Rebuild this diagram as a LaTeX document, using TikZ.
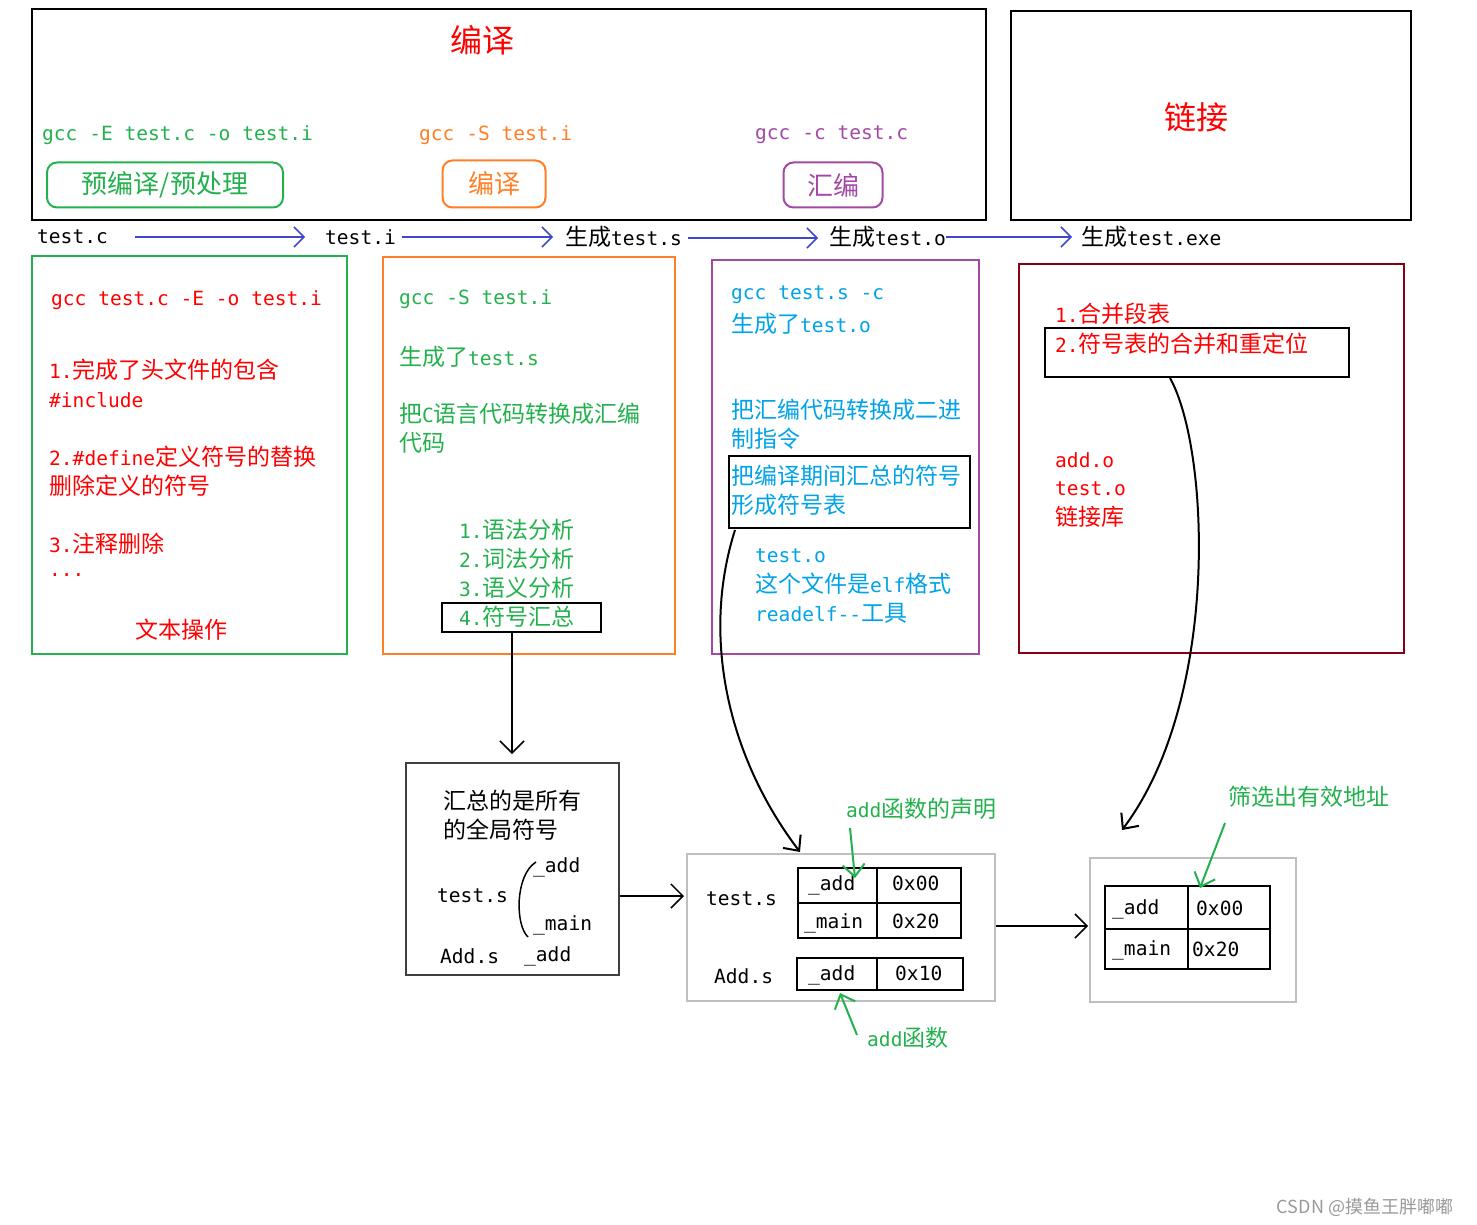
\documentclass[tikz,border=0pt]{standalone}
\usepackage{fontspec}
\setmainfont{Noto Sans CJK SC}
\newfontfamily\monofam{DejaVu Sans Mono}[Scale=0.85]
\newcommand\m[1]{{\monofam #1}}
\usetikzlibrary{arrows.meta}
\definecolor{cgreen}{RGB}{34,177,76}
\definecolor{corange}{RGB}{255,127,39}
\definecolor{cpurple}{RGB}{163,73,164}
\definecolor{cblue}{RGB}{0,162,232}
\definecolor{cdred}{RGB}{136,0,21}
\definecolor{carrow}{RGB}{63,72,204}
\begin{document}
\begin{tikzpicture}[x=1pt,y=-1pt,
 t/.style={anchor=west,inner sep=0pt,font=\fontsize{23}{25}\selectfont},
 box/.style={draw,line width=2pt},
 flow/.style={carrow,line width=1.5pt,-{Straight Barb[length=10pt,width=20pt]}},
 blk/.style={line width=1.5pt,-{Straight Barb[length=12pt,width=24pt]}},
 gar/.style={cgreen,line width=2pt,-{Straight Barb[length=12pt,width=22pt]}}]
\useasboundingbox (0,0) rectangle (1477,1225);
% top boxes
\node[box,minimum width=954,minimum height=211,anchor=north west] (comp) at (31,8) {};
\node[red,font=\fontsize{32}{34}\selectfont] (compt) at (482,40) {编译};
\node[t,cgreen] (g1) at (42,135) {\m{gcc -E test.c -o test.i}};
\node[t,corange] (g2) at (419,135) {\m{gcc -S test.i}};
\node[t,cpurple] (g3) at (755,135) {\m{gcc -c test.c}};
\node[draw=cgreen,line width=2pt,rounded corners=10pt,minimum width=236,minimum height=45,text=cgreen,font=\fontsize{26}{28}\selectfont] (s1) at (165,185) {预编译/预处理};
\node[draw=corange,line width=2pt,rounded corners=10pt,minimum width=103,minimum height=47,text=corange,font=\fontsize{26}{28}\selectfont] (s2) at (494,184) {编译};
\node[draw=cpurple,line width=2pt,rounded corners=10pt,minimum width=99,minimum height=45,text=cpurple,font=\fontsize{26}{28}\selectfont] (s3) at (833,185) {汇编};
\node[box,minimum width=400,minimum height=209,anchor=north west] (link) at (1010,10) {};
\node[red,font=\fontsize{32}{34}\selectfont] (linkt) at (1196,117) {链接};
% flow row
\node[t] (f1) at (37,237) {\m{test.c}};
\node[t] (f2) at (325,237) {\m{test.i}};
\node[t] (f3) at (565,237) {生成\m{test.s}};
\node[t] (f4) at (829,237) {生成\m{test.o}};
\node[t] (f5) at (1081,237) {生成\m{test.exe}};
\coordinate (a1) at (135,237); \coordinate (b1) at (305,237);
\draw[flow] (a1) -- (b1);
\draw[flow] (f2.east) ++(6,0) coordinate (a2) -- (553,237) coordinate (b2);
\draw[flow] (f3.east) ++(6,1) coordinate (a3) -- (818,238) coordinate (b3);
\draw[flow] (f4.east) -- (1072,237) coordinate (b4);
% green box
\node[draw=cgreen,line width=2pt,minimum width=315,minimum height=398,anchor=north west] (gb) at (31,255) {};
\begin{scope}[every node/.style={t,red}]
\node (r1) at (51,300) {\m{gcc test.c -E -o test.i}};
\node (r2) at (49,370) {\m{1.}完成了头文件的包含};
\node (r3) at (49,400) {\m{\#include}};
\node (r4) at (49,457) {\m{2.\#define}定义符号的替换};
\node (r5) at (49,486) {删除定义的符号};
\node (r6) at (49,544) {\m{3.}注释删除};
\node (r7) at (49,575) {\m{...}};
\node[anchor=center] (r8) at (181,630) {文本操作};
\end{scope}
% orange box
\node[draw=corange,line width=2pt,minimum width=292,minimum height=397,anchor=north west] (ob) at (382,256) {};
\begin{scope}[every node/.style={t,cgreen}]
\node (o1) at (399,299) {\m{gcc -S test.i}};
\node (o2) at (399,357) {生成了\m{test.s}};
\node (o3) at (399,414) {把\m{C}语言代码转换成汇编};
\node (o4) at (399,443) {代码};
\node (o5) at (459,530) {\m{1.}语法分析};
\node (o6) at (459,559) {\m{2.}词法分析};
\node (o7) at (459,588) {\m{3.}语义分析};
\node (o8) at (459,617) {\m{4.}符号汇总};
\end{scope}
\node[box,minimum width=159,minimum height=29,anchor=north west] (sb) at (441,602) {};
% purple box
\node[draw=cpurple,line width=2pt,minimum width=267,minimum height=394,anchor=north west] (pb) at (711,259) {};
\begin{scope}[every node/.style={t,cblue}]
\node (p1) at (731,295) {\m{gcc test.s -c}};
\node (p2) at (731,324) {生成了\m{test.o}};
\node (p3) at (731,410) {把汇编代码转换成二进};
\node (p4) at (731,439) {制指令};
\node (p5) at (731,476) {把编译期间汇总的符号};
\node (p6) at (731,505) {形成符号表};
\node (p7) at (755,556) {\m{test.o}};
\node (p8) at (755,584) {这个文件是\m{elf}格式};
\node (p9) at (755,613) {\m{readelf-{}-}工具};
\end{scope}
\node[box,minimum width=241,minimum height=72,anchor=north west] (fb) at (728,455) {};
% dark red box
\node[draw=cdred,line width=2pt,minimum width=385,minimum height=389,anchor=north west] (db) at (1018,263) {};
\begin{scope}[every node/.style={t,red}]
\node (d1) at (1055,314) {\m{1.}合并段表};
\node (d2) at (1055,344) {\m{2.}符号表的合并和重定位};
\node (d3) at (1055,460) {\m{add.o}};
\node (d4) at (1055,489) {\m{test.o}};
\node (d5) at (1055,517) {链接库};
\end{scope}
\node[box,minimum width=304,minimum height=49,anchor=north west] (mb) at (1044,327) {};
% summary box
\coordinate (sbb) at (512,631);
\draw[blk] (sbb) -- (512,754) coordinate (sum1);
\node[draw=black!75,line width=2pt,minimum width=213,minimum height=212,anchor=north west] (sum) at (405,762) {};
\node[t] (q1) at (443,801) {汇总的是所有};
\node[t] (q2) at (443,830) {的全局符号};
\node[t] (q3) at (437,896) {\m{test.s}};
\node[t] (q4) at (533,867) {\m{\_add}};
\node[t] (q5) at (533,925) {\m{\_main}};
\node[t] (q6) at (440,956) {\m{Add.s}};
\node[t] (q7) at (524,956) {\m{\_add}};
\draw[line width=1.5pt] (536,862) .. controls (515,875) and (515,925) .. (528,937);
\draw[blk] (sum.east |- 0,896) -- (684,896) coordinate (tb1);
% table box 1
\node[draw=black!25,line width=2pt,minimum width=308,minimum height=147,anchor=north west] (tbx) at (686,853) {};
\node[t] (u1) at (706,899) {\m{test.s}};
\node[t] (u2) at (714,976) {\m{Add.s}};
\draw[line width=2pt] (798,868) rectangle (961,938) (877,868) -- (877,938) (798,903) -- (961,903);
\draw[line width=2pt] (797,958) rectangle (963,990) (877,958) -- (877,990);
\node[t] (v1) at (808,885) {\m{\_add}};
\node[t] (v2) at (892,883) {\m{0x00}};
\node[t] (v3) at (804,923) {\m{\_main}};
\node[t] (v4) at (892,921) {\m{0x20}};
\node[t] (v5) at (808,975) {\m{\_add}};
\node[t] (v6) at (895,973) {\m{0x10}};
\node[t,cgreen] (w1) at (846,809) {\m{add}函数的声明};
\node[t,cgreen] (w2) at (867,1038) {\m{add}函数};
\draw[gar] (850,828) -- (855,878);
\draw[gar] (857,1035) -- (840,993);
\draw[blk] (tbx.east |- 0,926) -- (1088,926) coordinate (tb2);
% table box 2
\node[draw=black!25,line width=2pt,minimum width=206,minimum height=144,anchor=north west] (tbx2) at (1089,857) {};
\draw[line width=2pt] (1105,886) rectangle (1270,969) (1188,886) -- (1188,969) (1105,929) -- (1270,929);
\node[t] (x1) at (1112,909) {\m{\_add}};
\node[t] (x2) at (1196,908) {\m{0x00}};
\node[t] (x3) at (1112,950) {\m{\_main}};
\node[t] (x4) at (1192,949) {\m{0x20}};
\node[t,cgreen] (y1) at (1228,797) {筛选出有效地址};
\draw[gar] (1225,823) -- (1200,888);
% curves
\draw[line width=2pt,-{Straight Barb[length=12pt,width=22pt]}] (735,530) .. controls (700,640) and (730,760) .. (800,852);
\draw[line width=2pt,-{Straight Barb[length=12pt,width=22pt]}] (1170,378) .. controls (1210,450) and (1220,700) .. (1122,830);
\node[black!40,font=\fontsize{18}{20}\selectfont] (wm) at (1365,1207) {CSDN @摸鱼王胖嘟嘟};
\end{tikzpicture}
\end{document}
